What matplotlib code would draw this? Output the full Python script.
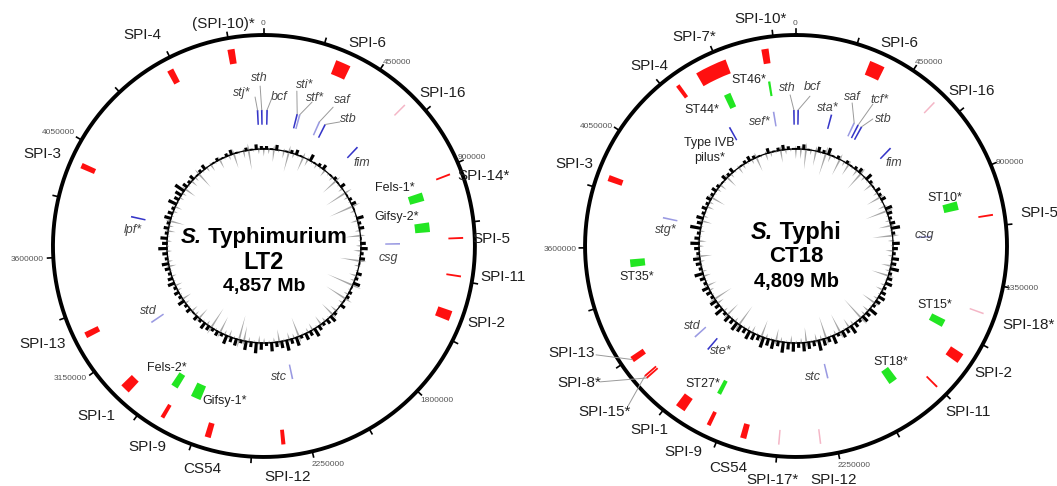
import numpy as np
import matplotlib.pyplot as plt
from matplotlib.offsetbox import TextArea, HPacker, AnnotationBbox

plt.rcParams['font.family'] = ['Liberation Sans', 'DejaVu Sans']

# ---------------- S. Typhimurium LT2 ----------------
lt2_size = 4857432
# features: name, centre (kb), length (kb), kind
lt2_names = ['SPI-10', 'SPI-4', 'SPI-6', 'SPI-16', 'SPI-14', 'SPI-5', 'SPI-11', 'SPI-2',
             'SPI-12', 'CS54', 'SPI-9', 'SPI-1', 'SPI-13', 'SPI-3',
             'Fels-1', 'Gifsy-2', 'Fels-2', 'Gifsy-1',
             'stj', 'sth', 'bcf', 'sti', 'stf', 'saf', 'stb', 'fim', 'lpf', 'csg', 'std', 'stc']
lt2_pos = [4729, 4479, 317, 607, 930, 1183, 1333, 1492,
           2353, 2650, 2842, 3025, 3284, 3964,
           982, 1127, 2867, 2755,
           4821, 4845, 18, 191, 206, 325, 361, 586, 3811, 1202, 3182, 2265]
lt2_len = [28, 26, 60, 4, 6, 6, 6, 40,
           16, 24, 16, 40, 24, 22,
           40, 45, 34, 48,
           0, 0, 0, 0, 0, 0, 0, 0, 0, 0, 0, 0]
lt2_kind = ['spi', 'spi', 'spi', 'faint', 'spi', 'spi', 'spi', 'spi',
            'spi', 'spi', 'spi', 'spi', 'spi', 'spi',
            'phage', 'phage', 'phage', 'phage',
            'fim', 'fim', 'fim', 'fim', 'fim_l', 'fim_l', 'fim', 'fim', 'fim', 'fim_l', 'fim_l', 'fim_l']

# GC deviation per 3 degree window, above (black) and below (grey) average
lt2_gc_hi = [2, 1, 3, 0, 1, 2, 3, 1, 0, 4, 1, 2, 3, 0, 1, 2, 1, 3, 0, 1,
             2, 3, 1, 0, 4, 2, 3, 0, 1, 3, 4, 2, 3, 1, 0, 3, 2, 4, 1, 2,
             2, 1, 3, 0, 2, 4, 3, 2, 3, 5, 3, 4, 2, 5, 3, 6, 4, 3, 5, 2,
             4, 6, 3, 5, 2, 4, 3, 5, 2, 3, 2, 3, 4, 2, 3, 1, 3, 2, 4, 2,
             3, 2, 4, 3, 2, 3, 4, 2, 3, 5, 3, 4, 2, 3, 2, 4, 3, 2, 5, 3,
             4, 6, 3, 2, 3, 1, 2, 3, 0, 1, 2, 1, 2, 3, 1, 0, 2, 1, 3, 2]
lt2_gc_lo = [2, 5, 1, 3, 8, 2, 1, 6, 3, 1, 2, 1, 3, 1, 2, 7, 1, 2, 9, 2,
             1, 10, 2, 1, 3, 1, 2, 6, 1, 2, 3, 1, 8, 2, 1, 3, 2, 11, 1, 2,
             9, 2, 1, 3, 6, 1, 2, 4, 1, 3, 2, 1, 8, 2, 3, 1, 5, 2, 1, 2,
             3, 1, 2, 6, 10, 1, 3, 2, 7, 1, 9, 2, 1, 5, 2, 3, 1, 2, 4, 1,
             2, 3, 1, 2, 1, 3, 2, 1, 2, 1, 2, 1, 3, 2, 6, 1, 2, 3, 1, 2,
             2, 5, 1, 3, 2, 7, 1, 2, 3, 1, 4, 1, 2, 6, 1, 3, 8, 1, 2, 3]

lt2_tick_labels = {0: (0.497, 1.028), 450000: (0.815, 0.936), 900000: (0.993, 0.709),
                   1800000: (0.910, 0.135), 2250000: (0.652, -0.017), 3150000: (0.040, 0.187),
                   3600000: (-0.062, 0.467), 4050000: (0.012, 0.768)}

# text, x, y (axes fraction), style
lt2_labels = [('(SPI-10)*', 0.405, 1.026, 'out'), ('SPI-4', 0.211, 1.0, 'out'),
              ('SPI-6', 0.744, 0.981, 'out'), ('SPI-16', 0.924, 0.863, 'out'),
              ('SPI-3', -0.026, 0.718, 'out'), ('SPI-14*', 1.021, 0.666, 'out'),
              ('SPI-5', 1.038, 0.517, 'out'), ('SPI-11', 1.066, 0.427, 'out'),
              ('SPI-2', 1.028, 0.318, 'out'), ('SPI-13', -0.024, 0.268, 'out'),
              ('SPI-1', 0.104, 0.097, 'out'), ('SPI-9', 0.223, 0.024, 'out'),
              ('CS54', 0.355, -0.028, 'out'), ('SPI-12', 0.555, -0.047, 'out'),
              ('Fels-1*', 0.810, 0.637, 'ph'), ('Gifsy-2*', 0.815, 0.569, 'ph'),
              ('Fels-2*', 0.270, 0.211, 'ph'), ('Gifsy-1*', 0.408, 0.133, 'ph'),
              ('stj*', 0.448, 0.863, 'it'), ('sth', 0.488, 0.898, 'it'),
              ('bcf', 0.536, 0.853, 'it'), ('sti*', 0.597, 0.882, 'it'),
              ('stf*', 0.621, 0.851, 'it'), ('saf', 0.685, 0.846, 'it'),
              ('stb', 0.701, 0.801, 'it'), ('fim', 0.732, 0.697, 'it'),
              ('lpf*', 0.190, 0.538, 'it'), ('csg', 0.794, 0.472, 'it'),
              ('std', 0.225, 0.346, 'it'), ('stc', 0.536, 0.190, 'it')]

# leader lines: feature, start (axes fraction)
lt2_leaders = [('stj', 0.479, 0.853), ('sth', 0.491, 0.879), ('bcf', 0.519, 0.851),
               ('sti', 0.578, 0.867), ('stf', 0.614, 0.841), ('saf', 0.664, 0.829),
               ('stb', 0.680, 0.794)]

# ---------------- S. Typhi CT18 ----------------
ct18_size = 4809037
ct18_names = ['SPI-10', 'SPI-7', 'SPI-4', 'SPI-6', 'SPI-16', 'SPI-3', 'SPI-5', 'SPI-18',
              'SPI-2', 'SPI-11', 'SPI-13', 'SPI-8', 'SPI-15', 'SPI-1', 'SPI-9', 'CS54',
              'SPI-17', 'SPI-12',
              'ST46', 'ST44', 'ST10', 'ST35', 'ST15', 'ST18', 'ST27',
              'TypeIVB', 'sef', 'sth', 'bcf', 'sta', 'saf', 'tcf', 'stb', 'fim', 'stg',
              'csg', 'std', 'ste', 'stc']
ct18_pos = [4689, 4470, 4323, 322, 587, 3873, 1082, 1467,
            1662, 1803, 3143, 3053, 3063, 2879, 2752, 2610,
            2471, 2310,
            4685, 4483, 1015, 3527, 1572, 1928, 2772,
            4418, 4682, 4797, 12, 202, 338, 363, 385, 588, 3767,
            1149, 3046, 2945, 2224]
ct18_len = [28, 125, 16, 60, 4, 24, 6, 4,
            40, 6, 24, 6, 4, 40, 16, 24,
            4, 4,
            10, 32, 40, 36, 36, 42, 20,
            0, 0, 0, 0, 0, 0, 0, 0, 0, 0,
            0, 0, 0, 0]
ct18_kind = ['spi', 'spi', 'spi', 'spi', 'faint', 'spi', 'spi', 'faint',
             'spi', 'spi', 'spi', 'spi', 'spi', 'spi', 'spi', 'spi',
             'faint', 'faint',
             'phage', 'phage', 'phage', 'phage', 'phage', 'phage', 'phage',
             'fim', 'fim_l', 'fim', 'fim', 'fim', 'fim_l', 'fim', 'fim', 'fim', 'fim_l',
             'fim_l', 'fim_l', 'fim', 'fim_l']

ct18_gc_hi = [2, 3, 1, 0, 3, 2, 4, 1, 2, 0, 2, 1, 2, 3, 0, 4, 2, 1, 3, 2,
              3, 0, 4, 3, 2, 3, 5, 2, 0, 4, 3, 2, 4, 3, 5, 2, 3, 4, 2, 3,
              4, 3, 2, 5, 3, 4, 2, 3, 5, 3, 4, 2, 5, 3, 4, 6, 3, 4, 5, 3,
              5, 4, 6, 3, 5, 4, 6, 3, 4, 5, 3, 4, 5, 3, 4, 2, 5, 3, 4, 2,
              3, 4, 2, 3, 5, 2, 3, 4, 2, 3, 5, 3, 2, 6, 3, 4, 2, 3, 2, 3,
              2, 3, 2, 1, 3, 2, 3, 0, 1, 2, 3, 2, 1, 0, 3, 1, 2, 3, 2, 1]
ct18_gc_lo = [4, 8, 2, 6, 1, 9, 3, 1, 7, 2, 5, 1, 3, 8, 2, 1, 4, 1, 2, 6,
              1, 3, 9, 1, 2, 5, 1, 8, 2, 1, 3, 2, 1, 4, 2, 7, 1, 2, 3, 1,
              2, 6, 1, 3, 2, 10, 1, 2, 4, 1, 8, 2, 1, 9, 2, 3, 1, 6, 2, 1,
              3, 1, 2, 5, 1, 2, 7, 1, 3, 2, 1, 9, 2, 1, 6, 2, 1, 3, 8, 1,
              2, 4, 1, 3, 2, 1, 2, 5, 1, 2, 3, 1, 2, 1, 4, 2, 1, 3, 2, 6,
              1, 2, 3, 1, 5, 2, 1, 3, 2, 1, 2, 6, 1, 3, 2, 1, 5, 2, 1, 4]

ct18_tick_labels = {0: (0.497, 1.028), 450000: (0.815, 0.936), 900000: (1.007, 0.697),
                    1350000: (1.036, 0.400), 2250000: (0.637, -0.021),
                    3600000: (-0.059, 0.491), 4050000: (0.028, 0.782)}

ct18_labels = [('SPI-10*', 0.417, 1.038, 'out'), ('SPI-7*', 0.258, 0.995, 'out'),
               ('SPI-4', 0.152, 0.927, 'out'), ('SPI-6', 0.744, 0.981, 'out'),
               ('SPI-16', 0.917, 0.867, 'out'), ('SPI-3', -0.026, 0.694, 'out'),
               ('SPI-5', 1.076, 0.578, 'out'), ('SPI-18*', 1.050, 0.313, 'out'),
               ('SPI-2', 0.967, 0.199, 'out'), ('SPI-11', 0.908, 0.107, 'out'),
               ('SPI-13', -0.033, 0.246, 'out'), ('SPI-8*', -0.014, 0.175, 'out'),
               ('SPI-15*', 0.047, 0.107, 'out'), ('SPI-1', 0.152, 0.064, 'out'),
               ('SPI-9', 0.232, 0.012, 'out'), ('CS54', 0.339, -0.026, 'out'),
               ('SPI-17*', 0.445, -0.055, 'out'), ('SPI-12', 0.590, -0.055, 'out'),
               ('ST46*', 0.389, 0.893, 'ph'), ('ST44*', 0.277, 0.822, 'ph'),
               ('ST10*', 0.853, 0.614, 'ph'), ('ST35*', 0.123, 0.427, 'ph'),
               ('ST15*', 0.829, 0.360, 'ph'), ('ST18*', 0.725, 0.225, 'ph'),
               ('ST27*', 0.280, 0.173, 'ph'),
               ('Type IVB', 0.294, 0.744, 'ph'), ('pilus*', 0.294, 0.709, 'ph'),
               ('sef*', 0.415, 0.794, 'it'), ('sth', 0.479, 0.874, 'it'),
               ('bcf', 0.538, 0.877, 'it'), ('sta*', 0.576, 0.827, 'it'),
               ('saf', 0.633, 0.853, 'it'), ('tcf*', 0.697, 0.846, 'it'),
               ('stb', 0.706, 0.801, 'it'), ('fim', 0.732, 0.697, 'it'),
               ('stg*', 0.192, 0.538, 'it'), ('csg', 0.803, 0.526, 'it'),
               ('std', 0.254, 0.310, 'it'), ('ste*', 0.322, 0.251, 'it'),
               ('stc', 0.540, 0.190, 'it')]

ct18_leaders = [('sth', 0.486, 0.858), ('bcf', 0.533, 0.855), ('saf', 0.633, 0.839),
                ('tcf', 0.682, 0.836), ('stb', 0.682, 0.801), ('SPI-13', 0.026, 0.242),
                ('SPI-8', 0.036, 0.178), ('SPI-15', 0.102, 0.121)]

# ring radii, colours and minimum widths (deg) for each kind of feature
ring = {'spi':   (0.875, 0.945, '#ff1010', 0.55),
        'faint': (0.875, 0.945, '#f4b6c6', 0.45),
        'phage': (0.72, 0.79, '#22e622', 0.8),
        'fim':   (0.575, 0.645, '#3535c8', 0.7),
        'fim_l': (0.575, 0.645, '#9a9ae2', 0.7)}

GC_BASE = 0.46


def draw_genome(ax, size, names, pos, lens, kinds, gc_hi, gc_lo, tick_labels,
                labels, leaders, title, strain, mb, title_y):
    ax.set_theta_zero_location('N')
    ax.set_theta_direction(-1)
    ax.set_ylim(0, 1)
    ax.axis('off')

    # backbone circle and ticks
    t = np.linspace(0, 2 * np.pi, 720)
    ax.plot(t, np.ones_like(t), color='k', lw=2.8, clip_on=False, zorder=3)
    for bp in range(0, size, 225000):
        th = 2 * np.pi * bp / size
        ax.plot([th, th], [1.0, 1.027], color='k', lw=1.2, clip_on=False, zorder=3)
    for bp, (x, y) in tick_labels.items():
        ax.text(x, y, str(bp), transform=ax.transAxes, fontsize=6,
                color='#555555', ha='center', va='center')

    # features
    theta_of = {}
    for n, p, l, k in zip(names, pos, lens, kinds):
        r0, r1, col, wmin = ring[k]
        th = 2 * np.pi * p * 1000 / size
        w = max(2 * np.pi * l * 1000 / size, np.radians(wmin))
        ax.bar(th, r1 - r0, width=w, bottom=r0, color=col, linewidth=0, zorder=2)
        theta_of[n] = (th, r1)

    # GC plot: blocky black bars outward, thin grey spikes mostly inward
    n = len(gc_hi)
    ths = 2 * np.pi * (np.arange(n) + 0.5) / n
    ax.plot(t, np.full_like(t, GC_BASE), color='k', lw=0.9, zorder=2)
    hi = np.array(gc_hi) * 0.009
    ax.bar(ths, hi, width=np.radians(1.8), bottom=GC_BASE - 0.004,
           color='k', linewidth=0, zorder=2)
    w_lo = np.radians(1.2)
    for th, v in zip(ths + np.radians(1.4), gc_lo):
        if v:
            ax.fill([th - w_lo / 2, th, th + w_lo / 2, th],
                    [GC_BASE, GC_BASE - 0.012 * v, GC_BASE, GC_BASE + 0.004 * v],
                    color='#a6a6a6', lw=0, zorder=1)

    # labels
    for txt, x, y, st in labels:
        if st == 'out':
            ax.text(x, y, txt, transform=ax.transAxes, fontsize=11,
                    color='#1e1e1e', ha='center', va='center')
        elif st == 'ph':
            ax.text(x, y, txt, transform=ax.transAxes, fontsize=9,
                    color='#222222', ha='center', va='center')
        else:
            ax.text(x, y, txt, transform=ax.transAxes, fontsize=9, style='italic',
                    color='#444444', ha='center', va='center')

    for feat, x, y in leaders:
        th, r1 = theta_of[feat]
        ax.annotate('', xy=(th, r1), xycoords='data', xytext=(x, y),
                    textcoords='axes fraction',
                    arrowprops=dict(arrowstyle='-', color='#9a9a9a', lw=0.7,
                                    shrinkA=0, shrinkB=0))

    # centre title
    fs1, fs2, fs3 = title_y[3]
    box = HPacker(children=[
        TextArea('S.', textprops=dict(fontsize=fs1, weight='bold', style='italic')),
        TextArea(' ' + title, textprops=dict(fontsize=fs1, weight='bold'))],
        align='baseline', pad=0, sep=0)
    ax.add_artist(AnnotationBbox(box, (0.5, title_y[0]), xycoords='axes fraction',
                                 frameon=False, box_alignment=(0.5, 0.5)))
    ax.text(0.5, title_y[1], strain, transform=ax.transAxes, fontsize=fs2,
            weight='bold', ha='center', va='center')
    ax.text(0.5, title_y[2], mb, transform=ax.transAxes, fontsize=fs3,
            weight='bold', ha='center', va='center')


fig = plt.figure(figsize=(10.57, 4.86), dpi=100)
ax1 = fig.add_axes([0.0501, 0.0597, 0.3992, 0.8683], projection='polar')
ax2 = fig.add_axes([0.5535, 0.0597, 0.3992, 0.8683], projection='polar')

draw_genome(ax1, lt2_size, lt2_names, lt2_pos, lt2_len, lt2_kind, lt2_gc_hi, lt2_gc_lo,
            lt2_tick_labels, lt2_labels, lt2_leaders, 'Typhimurium', 'LT2', '4,857 Mb',
            (0.521, 0.462, 0.405, (16, 17, 14)))
draw_genome(ax2, ct18_size, ct18_names, ct18_pos, ct18_len, ct18_kind, ct18_gc_hi, ct18_gc_lo,
            ct18_tick_labels, ct18_labels, ct18_leaders, 'Typhi', 'CT18', '4,809 Mb',
            (0.533, 0.474, 0.415, (17, 16, 14.5)))

fig.savefig('out.png', dpi=100)
